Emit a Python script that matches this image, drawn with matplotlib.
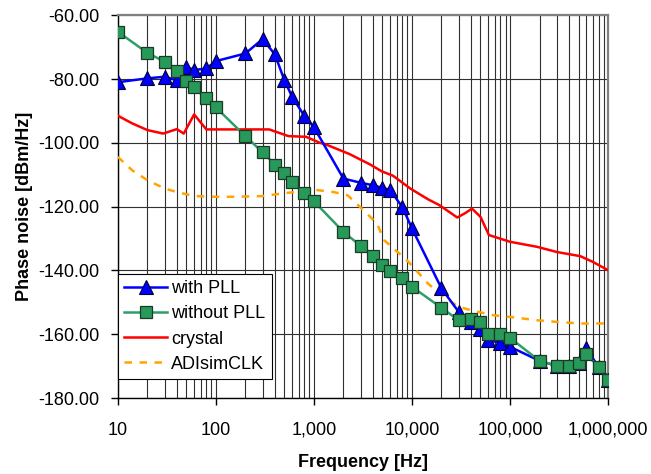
import matplotlib
matplotlib.use("Agg")
import matplotlib.pyplot as plt
from matplotlib.ticker import FixedLocator, FuncFormatter, NullFormatter

plt.rcParams['font.family'] = ['Liberation Sans', 'DejaVu Sans']

# with PLL / without PLL measurements (same frequency grid)
freq = [10, 20, 30, 40, 50, 60, 80, 100, 200, 300, 400, 500, 600, 800,
        1000, 2000, 3000, 4000, 5000, 6000, 8000, 10000, 20000, 30000,
        40000, 50000, 60000, 80000, 100000, 200000, 300000, 400000,
        500000, 600000, 800000, 1000000]
with_pll = [-81.0, -79.8, -79.3, -80.4, -76.2, -77.2, -76.7, -74.4, -72.0,
            -67.5, -72.3, -80.4, -85.6, -91.6, -95.1, -111.2, -112.5,
            -113.3, -114.1, -114.8, -120.2, -126.8, -145.6, -153.0, -156.0,
            -158.2, -161.8, -162.7, -163.9, -168.3, -169.9, -169.9, -169.0,
            -164.4, -170.2, -174.4]
without_pll = [-65.2, -71.8, -74.6, -77.5, -80.7, -82.5, -86.1, -88.9, -97.9,
               -103.0, -106.8, -109.6, -112.2, -115.7, -118.3, -127.9, -132.3,
               -135.4, -138.4, -140.1, -142.5, -145.1, -151.7, -155.6, -155.3,
               -156.1, -160.0, -160.0, -161.1, -168.3, -169.9, -169.9, -169.0,
               -166.2, -170.2, -174.4]

# crystal curve
xtal_f = [10, 14, 20, 29, 40, 47, 60, 80, 100, 200, 350, 550, 830, 1150,
          1300, 2300, 3700, 4900, 6400, 9600, 14600, 19000, 29000, 35000,
          41000, 50000, 61000, 100000, 190000, 300000, 520000, 700000, 1000000]
xtal = [-91.5, -93.9, -96.0, -97.1, -95.7, -97.1, -91.1, -95.8, -95.8, -95.8,
        -95.8, -97.9, -98.1, -100.0, -100.4, -103.5, -106.7, -108.9, -110.3,
        -114.3, -117.7, -119.5, -123.4, -122.0, -120.6, -123.2, -128.9,
        -131.0, -132.6, -134.2, -135.5, -137.3, -139.9]

# ADIsimCLK simulation
sim_f = [10, 14, 20, 30, 43, 63, 100, 150, 300, 520, 1070, 1570, 2200, 3200,
         4400, 5200, 6500, 8900, 11000, 14600, 20000, 30000, 42000, 67000,
         110000, 190000, 300000, 520000, 1000000]
sim = [-104.4, -108.6, -111.7, -114.3, -115.7, -116.7, -116.9, -116.9, -116.7,
       -115.7, -114.8, -115.4, -116.4, -121.1, -125.3, -130.5, -133.1, -136.8,
       -139.9, -144.1, -147.7, -151.4, -152.6, -154.0, -154.7, -155.6, -156.1,
       -156.6, -156.6]

fig = plt.figure(figsize=(6.51, 4.74), dpi=100)
ax = fig.add_axes([0.181, 0.160, 0.753, 0.808])

ax.plot(freq, with_pll, color='#0000FF', lw=1.8, marker='^', markersize=10,
        markerfacecolor='#0000FF', markeredgecolor='#000033', markeredgewidth=0.8,
        label='with PLL', zorder=4)
ax.plot(freq, without_pll, color='#2E9E68', lw=1.8, marker='s', markersize=8.5,
        markerfacecolor='#279A5A', markeredgecolor='#1A3A26', markeredgewidth=0.9,
        label='without PLL', zorder=5)
ax.plot(xtal_f, xtal, color='#FF0000', lw=1.8, label='crystal', zorder=3)
ax.plot(sim_f, sim, color='#FFA500', lw=1.8, ls=(0, (3, 3)), label='ADIsimCLK',
        zorder=3)

ax.set_xscale('log')
ax.set_xlim(10, 1e6)
ax.set_ylim(-180, -60)

decades = [10, 100, 1000, 10000, 100000, 1000000]
ax.xaxis.set_major_locator(FixedLocator(decades))
minor = [m * d for d in decades[:-1] for m in range(2, 10)]
ax.xaxis.set_minor_locator(FixedLocator(minor))
ax.xaxis.set_minor_formatter(NullFormatter())
ax.xaxis.set_major_formatter(FuncFormatter(lambda v, p: f"{v:,.0f}"))
ax.set_yticks([-180, -160, -140, -120, -100, -80, -60])
ax.yaxis.set_major_formatter(FuncFormatter(lambda v, p: f"{v:.2f}"))

ax.grid(True, which='both', axis='x', color='#303030', lw=0.8)
ax.grid(True, which='major', axis='y', color='#303030', lw=0.8)
ax.set_axisbelow(True)

ax.tick_params(axis='both', which='major', direction='out', length=5,
               width=1, labelsize=13, color='black')
ax.tick_params(axis='x', which='minor', length=0)
ax.tick_params(axis='x', pad=12)
ax.tick_params(axis='y', pad=8)

for s in ['top', 'right']:
    ax.spines[s].set_color('#808080')
    ax.spines[s].set_linewidth(1.6)
for s in ['left', 'bottom']:
    ax.spines[s].set_color('black')
    ax.spines[s].set_linewidth(1.0)

ax.set_xlabel('Frequency [Hz]', fontsize=13, fontweight='bold', labelpad=11)
ax.set_ylabel('Phase noise [dBm/Hz]', fontsize=13, fontweight='bold', labelpad=4)

leg = ax.legend(loc='lower left', bbox_to_anchor=(0.0, 0.05), fontsize=13,
                frameon=True, fancybox=False, framealpha=1, edgecolor='black',
                borderpad=0.35, labelspacing=0.45, handlelength=2.4,
                handletextpad=0.2, borderaxespad=0)
leg.get_frame().set_linewidth(0.8)

fig.savefig('out.png', dpi=100)
